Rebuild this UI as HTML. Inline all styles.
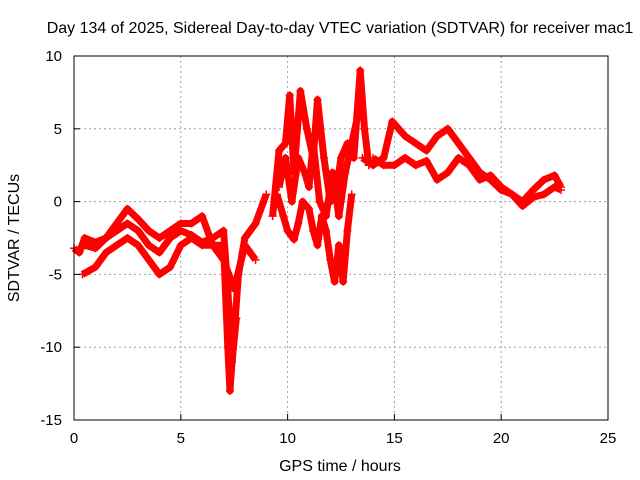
<!DOCTYPE html>
<html><head><meta charset="utf-8"><style>
body{margin:0;background:#fff}
svg{display:block;font-family:"Liberation Sans",sans-serif}
</style></head><body>
<svg id="chart" width="640" height="480" viewBox="0 0 640 480">
<rect x="0" y="0" width="640" height="480" fill="#fff"/>
<text x="340" y="33" font-size="16" text-anchor="middle">Day 134 of 2025, Sidereal Day-to-day VTEC variation (SDTVAR) for receiver mac1</text>
<g id="grid"></g>
<g id="marks"></g>
<rect x="74" y="56" width="534" height="364" fill="none" stroke="#000" stroke-width="1"/>
<g id="ticks"></g>
<text x="340" y="471" font-size="16" text-anchor="middle">GPS time / hours</text>
<text transform="translate(19,238) rotate(-90)" font-size="16" text-anchor="middle">SDTVAR / TECUs</text>
</svg>
<script>
const xTicks=[0,5,10,15,20,25];
const yTicks=[-15,-10,-5,0,5,10];
const trackA=[[0,-3.2],[0.25,-3.5],[0.5,-2.5],[1,-2.8],[1.5,-2.5],[2,-1.5],[2.5,-0.5],[3,-1.2],[3.5,-2],[4,-2.5],[4.5,-2],[5,-1.5],[5.5,-1.5],[6,-1],[6.5,-3],[7,-3],[7.2,-10],[7.3,-13],[7.5,-9],[7.7,-5],[8,-2.5],[8.5,-1.5],[9,0.5]];
const trackB=[[0.4,-5],[1,-4.5],[1.5,-3.5],[2,-3],[2.5,-2.5],[3,-3],[3.5,-4],[4,-5],[4.5,-4.5],[5,-3],[5.5,-2.5],[6,-3],[6.5,-3],[7,-4],[7.5,-6],[8,-3],[8.5,-4]];
const trackC=[[0.5,-3],[1,-3.2],[1.5,-2.5],[2,-2],[2.5,-1.5],[3,-2],[3.5,-3],[4,-3.5],[4.5,-2.5],[5,-2],[5.5,-2.3],[6,-2.8],[6.5,-2.5],[7,-2],[7.2,-6],[7.4,-11],[7.6,-8]];
const trackD=[[9.3,-1],[9.6,3.5],[9.9,4],[10.1,7.3],[10.3,2],[10.6,7.6],[10.9,5],[11.2,3],[11.4,7],[11.7,3],[12,0],[12.3,1],[12.5,3],[12.8,4],[13.1,3],[13.4,9],[13.6,5],[13.8,2.5]];
const trackE=[[9.5,0.5],[9.8,-1],[10,-2],[10.3,-2.6],[10.5,-1.5],[10.7,0],[11,-0.5],[11.2,-2],[11.4,-3],[11.6,-1],[11.8,-2],[12,-4],[12.2,-5.5],[12.4,-3],[12.6,-5.5],[12.8,-2],[13,0.5]];
const trackH=[[9.6,1],[9.9,3],[10.2,0],[10.5,3],[10.8,2],[11,1],[11.2,4],[11.5,0],[11.8,-1],[12.1,2],[12.4,-1],[12.7,2],[13,4],[13.3,6]];
const trackF=[[13.5,3],[14,2.5],[14.5,3],[14.9,5.5],[15.5,4.5],[16,4],[16.5,3.5],[17,4.5],[17.5,5],[18,4],[18.5,3],[19,2],[19.5,1.5],[20,0.8],[20.5,0.5],[21,0],[21.5,0.8],[22,1.5],[22.5,1.8],[22.8,1]];
const trackG=[[14,3],[14.5,2.5],[15,2.5],[15.5,3],[16,2.5],[16.5,2.8],[17,1.5],[17.5,2],[18,3],[18.5,2.5],[19,1.5],[19.5,1.8],[20,1],[20.5,0.5],[21,-0.3],[21.5,0.3],[22,0.5],[22.5,1],[22.8,0.8]];
const tracks=[trackA,trackB,trackC,trackD,trackE,trackH,trackF,trackG];
const NS='http://www.w3.org/2000/svg';
const X=v=>74+v*534/25, Y=v=>420-(v+15)*364/25;
const grid=document.getElementById('grid'),ticks=document.getElementById('ticks'),marks=document.getElementById('marks');
function mk(tag,attrs,parent){const e=document.createElementNS(NS,tag);for(const k in attrs)e.setAttribute(k,attrs[k]);parent.appendChild(e);return e;}
xTicks.forEach(t=>{
  if(t>0&&t<25){const g=mk('line',{x1:X(t),x2:X(t),y1:56,y2:420,stroke:'#a0a0a0','stroke-dasharray':'2,3'},grid);
  
  }
  const l=mk('line',{x1:X(t),x2:X(t),y1:420,y2:414,stroke:'#000'},ticks);
  
  
  const tx=mk('text',{x:X(t),y:443,'font-size':15,'text-anchor':'middle'},ticks);tx.textContent=t;
  
  
});
yTicks.forEach(t=>{
  if(t>-15&&t<10){const g=mk('line',{x1:74,x2:608,y1:Y(t),y2:Y(t),stroke:'#a0a0a0','stroke-dasharray':'2,3'},grid);
  
  }
  const l=mk('line',{x1:74,x2:80,y1:Y(t),y2:Y(t),stroke:'#000'},ticks);
  
  
  const tx=mk('text',{x:62,y:Y(t)+5,'font-size':15,'text-anchor':'end'},ticks);tx.textContent=t;
  
  
});
tracks.forEach(tr=>{
  const pl=mk('polyline',{points:tr.map(p=>X(p[0])+','+Y(p[1])).join(' '),fill:'none',stroke:'#ff0000','stroke-width':7,'stroke-linejoin':'round'},marks);
  
  
  tr.forEach(p=>{
    const x=X(p[0]),y=Y(p[1]);
    const m=mk('path',{d:`M${x-4},${y}H${x+4}M${x},${y-4}V${y+4}`,stroke:'#ff0000','stroke-width':1.5},marks);
    
    
  });
});
</script>
</body></html>
